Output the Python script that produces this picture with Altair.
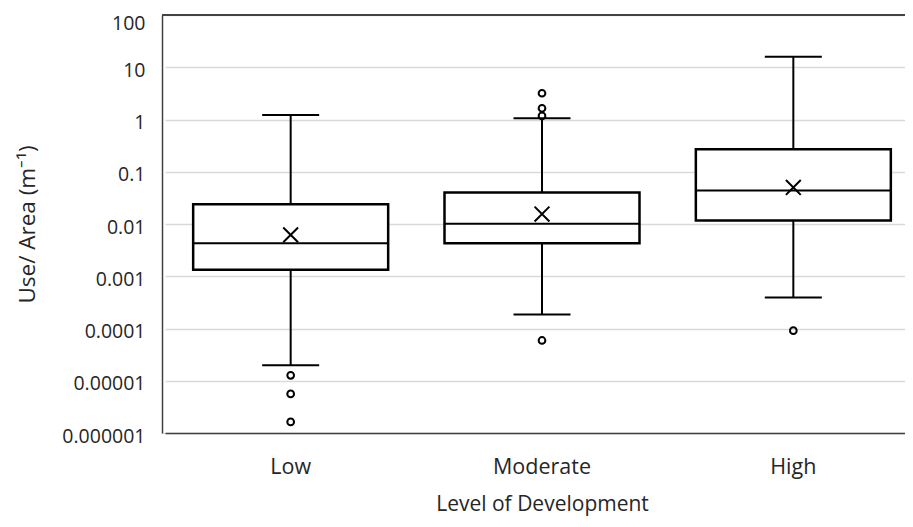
import altair as alt
import pandas as pd

categories = ["Low", "Moderate", "High"]
whisker_low = [1.97e-5, 1.86e-4, 3.9e-4]
q1 = [0.00133, 0.0043, 0.0117]
median = [0.0043, 0.0101, 0.0437]
mean = [0.0062, 0.0155, 0.050]
q3 = [0.024, 0.040, 0.27]
whisker_high = [1.22, 1.06, 15.9]

outlier_cat = ["Low", "Low", "Low", "Moderate", "Moderate", "Moderate", "Moderate", "High"]
outlier_val = [1.27e-5, 5.6e-6, 1.63e-6, 3.18, 1.64, 1.17, 5.9e-5, 9.1e-5]

y_ticks = [1e-6, 1e-5, 1e-4, 1e-3, 1e-2, 1e-1, 1, 10, 100]

stats = pd.DataFrame({
    "cat": categories, "wlo": whisker_low, "q1": q1, "med": median,
    "mean": mean, "q3": q3, "whi": whisker_high,
})
outl = pd.DataFrame({"cat": outlier_cat, "val": outlier_val})

FONT = "Open Sans"
TXT = "#262626"
YTITLE = "Use/ Area (m\u207b\u00b9)"

xenc = alt.X(
    "cat:N", sort=categories,
    scale=alt.Scale(domain=categories, paddingInner=0, paddingOuter=0, range=[3, 757]),
    axis=alt.Axis(title="Level of Development", labelAngle=0, ticks=False,
                  domain=True, domainColor="#404040", domainWidth=1.5,
                  labelFontSize=21.5, labelFont=FONT, labelColor=TXT, labelPadding=23,
                  titleFontSize=21, titleFont=FONT, titleColor=TXT, titleFontWeight="normal",
                  titlePadding=16, grid=False),
)

yscale = alt.Scale(type="log", domain=[1e-6, 100], nice=False)
yaxis = alt.Axis(values=y_ticks, format=".6~f", title=YTITLE, ticks=False,
                 domain=True, domainColor="#404040", domainWidth=1.5,
                 grid=True, gridColor="#d9d9d9", gridWidth=1.5,
                 labelFontSize=19.5, labelFont=FONT, labelColor=TXT, labelPadding=17,
                 labelOffset={"condition": {"test": "datum.value >= 50", "value": 8},
                              "value": 3},
                 titleFontSize=22.5, titleFont=FONT, titleColor=TXT, titleFontWeight="normal",
                 titlePadding=22)


def Y(field):
    return alt.Y(field, scale=yscale, axis=yaxis, title=YTITLE)


base = alt.Chart(stats)

whisker = base.mark_rule(color="black", strokeWidth=2).encode(
    x=xenc, y=Y("wlo:Q"), y2="whi:Q")
caps_lo = base.mark_tick(color="black", size=57, thickness=2, opacity=1).encode(
    x=xenc, y=Y("wlo:Q"))
caps_hi = base.mark_tick(color="black", size=57, thickness=2, opacity=1).encode(
    x=xenc, y=Y("whi:Q"))
box = base.mark_bar(size=195, fill="white", stroke="black", strokeWidth=2.5).encode(
    x=xenc, y=Y("q1:Q"), y2="q3:Q")
med = base.mark_tick(color="black", size=195, thickness=2, opacity=1).encode(
    x=xenc, y=Y("med:Q"))
meanx = base.mark_point(shape="M-1,-1L1,1M1,-1L-1,1", filled=False, color="black",
                        strokeWidth=2, size=220, opacity=1).encode(x=xenc, y=Y("mean:Q"))
outliers = alt.Chart(outl).mark_point(shape="circle", filled=False, color="black",
                                      strokeWidth=2, size=45, opacity=1).encode(
    x=xenc, y=Y("val:Q"))
top = base.mark_rule(color="#404040", strokeWidth=1.5).encode(y=alt.datum(100))

chart = alt.layer(whisker, box, med, caps_lo, caps_hi, meanx, outliers, top).properties(
    width=743, height=418,
    autosize=alt.AutoSizeParams(type="none"),
    padding={"left": 154, "top": 7, "right": 0, "bottom": 86},
).configure_view(stroke=None).configure(background="white")

chart.save("out.html", embed_options={"renderer": "svg", "actions": False})
